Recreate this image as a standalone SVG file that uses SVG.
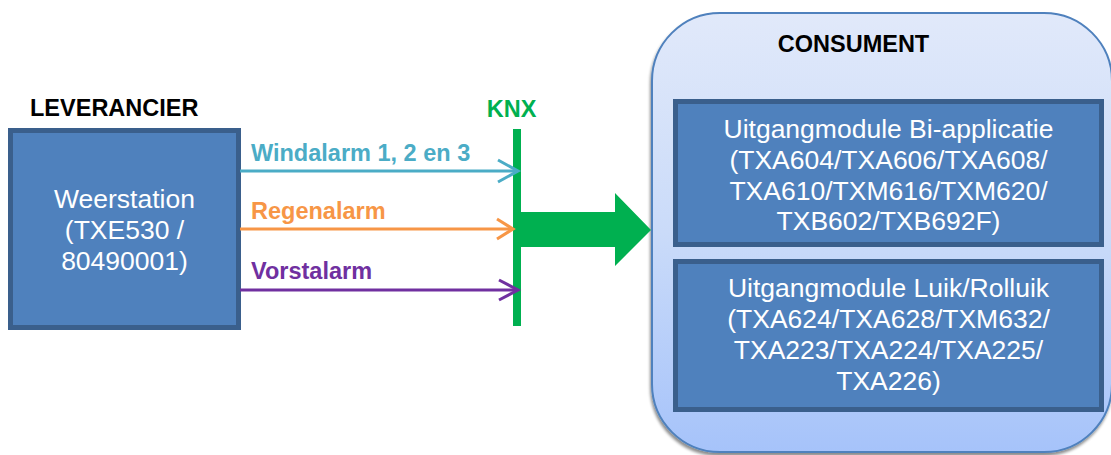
<svg xmlns="http://www.w3.org/2000/svg" width="1111" height="455" viewBox="0 0 1111 455">
<defs>
<linearGradient id="cg" x1="0" y1="0" x2="0" y2="1">
<stop offset="0" stop-color="#E1E9FA"/>
<stop offset="0.5" stop-color="#CADBF9"/>
<stop offset="1" stop-color="#A6C3FA"/>
</linearGradient>
<filter id="sh" x="-10%" y="-10%" width="120%" height="120%">
<feGaussianBlur in="SourceAlpha" stdDeviation="1.5"/>
<feOffset dx="-1" dy="3" result="o"/>
<feComponentTransfer><feFuncA type="linear" slope="0.45"/></feComponentTransfer>
<feMerge><feMergeNode/><feMergeNode in="SourceGraphic"/></feMerge>
</filter>
<marker id="ah-b" markerWidth="24" markerHeight="26" refX="21" refY="11" orient="auto" markerUnits="userSpaceOnUse" overflow="visible">
<path d="M1,0 L21,11 L1,22" fill="none" stroke="#4BACC6" stroke-width="3"/>
</marker>
<marker id="ah-o" markerWidth="24" markerHeight="26" refX="17" refY="10" orient="auto" markerUnits="userSpaceOnUse" overflow="visible">
<path d="M1,0 L17,10 L1,20" fill="none" stroke="#F79646" stroke-width="3"/>
</marker>
<marker id="ah-p" markerWidth="24" markerHeight="26" refX="20" refY="10" orient="auto" markerUnits="userSpaceOnUse" overflow="visible">
<path d="M1,0 L20,10 L1,20" fill="none" stroke="#7030A0" stroke-width="3"/>
</marker>
</defs>
<style>
.box{fill:#4F81BD;stroke:#3A5F8C;stroke-width:5}
.wt{font-family:"Liberation Sans",Arial,sans-serif;font-size:26.5px;fill:#FFFFFF;text-anchor:middle}
.bt{font-family:"Liberation Sans",Arial,sans-serif;font-size:23.5px;font-weight:bold}
.ln{fill:none;stroke-width:3}
</style>
<rect width="1111" height="455" fill="#FFFFFF"/>

<g id="consument">
<rect x="652" y="13" width="460" height="439" rx="68" ry="68" fill="url(#cg)" stroke="#4F81BD" stroke-width="2" filter="url(#sh)"/>
<text class="bt" x="853.5" y="52" text-anchor="middle" fill="#000000">CONSUMENT</text>
</g>

<g id="bi-applicatie">
<rect class="box" x="675.5" y="101.5" width="426" height="143"/>
<text class="wt" x="888.5" y="138">Uitgangmodule Bi-applicatie</text>
<text class="wt" x="888.5" y="169">(TXA604/TXA606/TXA608/</text>
<text class="wt" x="888.5" y="200">TXA610/TXM616/TXM620/</text>
<text class="wt" x="888.5" y="230">TXB602/TXB692F)</text>
</g>

<g id="luik-rolluik">
<rect class="box" x="675.5" y="261.5" width="426" height="148"/>
<text class="wt" x="888.5" y="297">Uitgangmodule Luik/Rolluik</text>
<text class="wt" x="888.5" y="328">(TXA624/TXA628/TXM632/</text>
<text class="wt" x="888.5" y="359">TXA223/TXA224/TXA225/</text>
<text class="wt" x="888.5" y="390">TXA226)</text>
</g>

<g id="leverancier">
<text class="bt" x="30" y="116" fill="#000000">LEVERANCIER</text>
<rect class="box" x="10.5" y="130.5" width="228" height="197"/>
<text class="wt" x="124.5" y="207.5">Weerstation</text>
<text class="wt" x="124.5" y="238.5">(TXE530 /</text>
<text class="wt" x="124.5" y="269.5">80490001)</text>
</g>

<g id="knx">
<text class="bt" x="511.5" y="117" text-anchor="middle" fill="#00B050">KNX</text>
<rect x="513" y="129" width="8" height="197" fill="#00B050"/>
</g>

<g id="connectors">
<line class="ln" x1="240" y1="171" x2="518" y2="171" stroke="#4BACC6" marker-end="url(#ah-b)"/>
<text class="bt" x="251" y="161" fill="#4BACC6">Windalarm 1, 2 en 3</text>
<line class="ln" x1="240" y1="229" x2="513" y2="229" stroke="#F79646" marker-end="url(#ah-o)"/>
<text class="bt" x="251" y="218.5" fill="#F79646">Regenalarm</text>
<line class="ln" x1="240" y1="290" x2="518" y2="290" stroke="#7030A0" marker-end="url(#ah-p)"/>
<text class="bt" x="251" y="278.5" fill="#7030A0">Vorstalarm</text>
<polygon points="520,212 615,212 615,193 651,230 615,266 615,247 520,247" fill="#00B050"/>
</g>
</svg>
